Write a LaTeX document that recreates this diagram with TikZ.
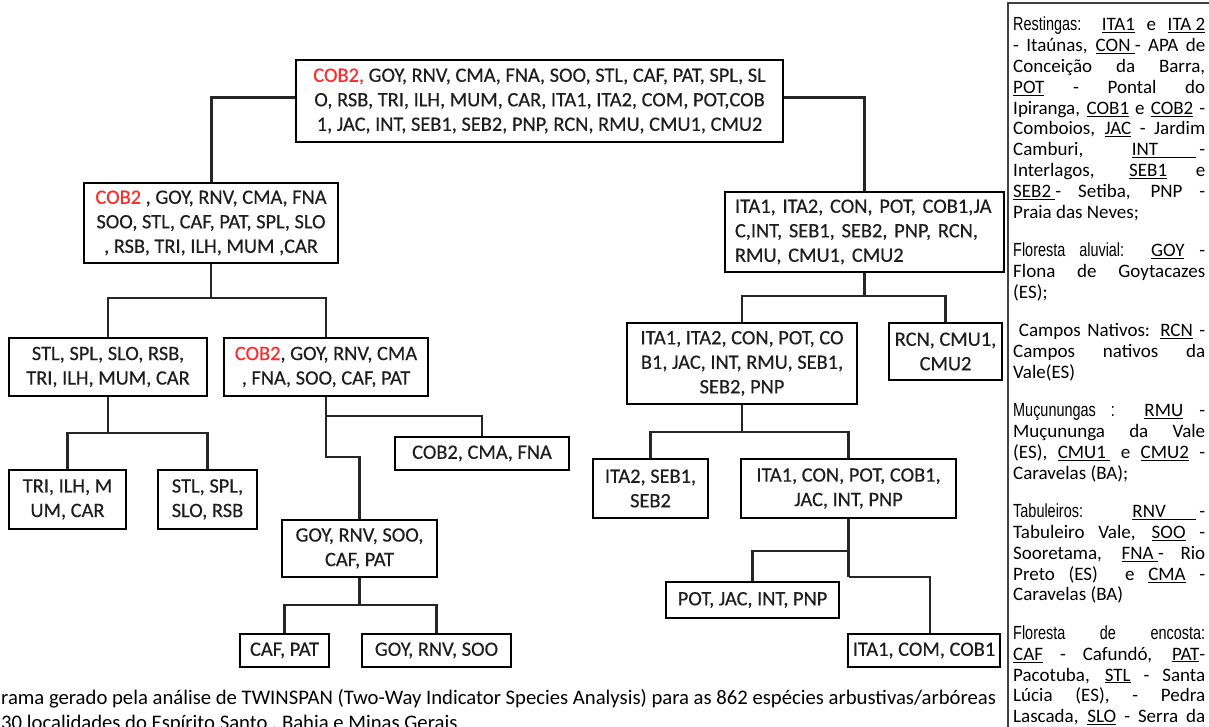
\documentclass[tikz,border=0pt]{standalone}
\usepackage{fontspec}
\setmainfont{Carlito}
\newfontfamily\narrowfont[FakeStretch=0.76]{Liberation Sans}
\newfontfamily\treefam[FakeBold=0.35]{Carlito}
\newcommand\treefont{\treefam\fontsize{20.4}{24.5}\selectfont}
\newcommand\legfont{\fontsize{19}{20.8}\selectfont}
\newcommand\capfont{\fontsize{20.7}{25}\selectfont}
\newcommand\legj[1]{\makebox[192pt][s]{#1}}
\newcommand\legl[1]{\makebox[192pt][l]{#1}}
\definecolor{txt}{HTML}{1E1E1E}
\definecolor{redc}{HTML}{FF2A2A}
\begin{document}
\begin{tikzpicture}[x=1pt,y=-1pt,
  box/.style={draw=black, line width=1.6pt, inner sep=0pt, align=center, font=\treefont, text=txt},
  conn/.style={draw=black!85, line width=2.4pt},
]
\fill[white] (0,0) rectangle (1209,727);
\useasboundingbox (0,0) rectangle (1209,727);
\clip (0,0) rectangle (1209,727);

% ---------- boxes ----------
\node[box, minimum width=487pt, minimum height=82pt] (root) at (539.5,101)
  {\textcolor{redc}{COB2,} GOY, RNV, CMA, FNA, SOO, STL, CAF, PAT, SPL, SL\\
   O, RSB, TRI, ILH, MUM, CAR, ITA1, ITA2, COM, POT,COB\\
   1, JAC, INT, SEB1, SEB2, PNP, RCN, RMU, CMU1, CMU2};
\node[box, minimum width=254pt, minimum height=80pt] (L1) at (211,223)
  {\textcolor{redc}{COB2} , GOY, RNV, CMA, FNA\\
   SOO, STL, CAF, PAT, SPL, SLO\\
   , RSB, TRI, ILH, MUM ,CAR};
\node[box, minimum width=279pt, minimum height=80pt, text width=259pt, align=left] (R1) at (864.5,232)
  {ITA1, ITA2, CON, POT, COB1,JA\\
   C,INT, SEB1, SEB2, PNP, RCN,\\
   RMU, CMU1, CMU2};
\node[box, minimum width=198pt, minimum height=58pt] (L2a) at (108,367)
  {STL, SPL, SLO, RSB,\\ TRI, ILH, MUM, CAR};
\node[box, minimum width=204pt, minimum height=58pt] (L2b) at (326,367)
  {\textcolor{redc}{COB2}, GOY, RNV, CMA\\ , FNA, SOO, CAF, PAT};
\node[box, minimum width=174pt, minimum height=33pt] (CMA) at (482,453.5)
  {COB2, CMA, FNA};
\node[box, minimum width=117pt, minimum height=59pt] (TRI) at (67.5,499.5)
  {TRI, ILH, M\\ UM, CAR};
\node[box, minimum width=99pt, minimum height=59pt] (STL) at (207.5,499.5)
  {STL, SPL,\\ SLO, RSB};
\node[box, minimum width=155pt, minimum height=57pt] (GOY) at (359.5,548.5)
  {GOY, RNV, SOO,\\ CAF, PAT};
\node[box, minimum width=89pt, minimum height=33pt] (CAF) at (284.5,650.5)
  {CAF, PAT};
\node[box, minimum width=149pt, minimum height=33pt] (GRS) at (436.5,650.5)
  {GOY, RNV, SOO};
\node[box, minimum width=230pt, minimum height=81pt] (R2a) at (742,363.5)
  {ITA1, ITA2, CON, POT, CO\\ B1, JAC, INT, RMU, SEB1,\\ SEB2, PNP};
\node[box, minimum width=113pt, minimum height=57pt] (R2b) at (945.5,351.5)
  {RCN, CMU1,\\ CMU2};
\node[box, minimum width=115pt, minimum height=59pt] (R3a) at (650.5,488.5)
  {ITA2, SEB1,\\ SEB2};
\node[box, minimum width=215pt, minimum height=59pt] (R3b) at (848.5,488.5)
  {ITA1, CON, POT, COB1,\\ JAC, INT, PNP};
\node[box, minimum width=173pt, minimum height=36pt] (R4a) at (752.5,600)
  {POT, JAC, INT, PNP};
\node[box, minimum width=152pt, minimum height=33pt] (R4b) at (924,650.5)
  {ITA1, COM, COB1};

% ---------- junctions ----------
\coordinate (j1) at (211,298);
\coordinate (j2) at (108,433);
\coordinate (j3) at (326,416);
\coordinate (j4) at (326,457);
\coordinate (j6) at (359.5,605);
\coordinate (j7) at (864.5,296);
\coordinate (j8) at (742,432);
\coordinate (j9) at (848.5,551);
\coordinate (j10) at (848.5,577);

% ---------- connectors ----------
\draw[conn, line width=3pt] ([yshift=3pt]root.west) -| (L1.north);
\draw[conn, line width=3pt] ([yshift=3pt]root.east) -| (R1.north);
\draw[conn] (L1.south) -- (j1);
\draw[conn] (L2a.north) |- (j1) -| (L2b.north);
\draw[conn] (L2a.south) -- (j2);
\draw[conn] (TRI.north) |- (j2) -| (STL.north);
\draw[conn] (L2b.south) -- (j3) -| (CMA.north);
\draw[conn] (j3) -- (j4) -| (GOY.north);
\draw[conn] (GOY.south) -- (j6);
\draw[conn] (CAF.north) |- (j6) -| (GRS.north);
\draw[conn] (R1.south) -- (j7);
\draw[conn] (R2a.north) |- (j7) -| (R2b.north);
\draw[conn] (R2a.south) -- (j8);
\draw[conn] (R3a.north) |- (j8) -| (R3b.north);
\draw[conn] (R3b.south) -- (j10);
\draw[conn] (R4a.north) |- (j9);
\draw[conn] (j10) -| ([xshift=6pt]R4b.north);

% ---------- legend ----------
\draw[draw=black!75, line width=1.5pt] (1008,730) -- (1008,3) -- (1212,3);
\node[anchor=north west, inner sep=0pt, align=left, font=\legfont, text=black] (leg) at (1013,17) {%
\legj{{\narrowfont Restingas:} \underline{ITA1} e \underline{ITA 2}}\\
\legj{- Itaúnas, \underline{CON\ }- APA de}\\
\legj{Conceição da Barra,}\\
\legj{\underline{POT} - Pontal do}\\
\legj{Ipiranga, \underline{COB1} e \underline{COB2} -}\\
\legj{Comboios, \underline{JAC} - Jardim}\\
\legj{Camburi, \underline{INT\hspace{2em}}\,-}\\
\legj{Interlagos, \underline{SEB1} e}\\
\legj{\underline{SEB2\ }- Setiba, PNP -}\\
\legl{Praia das Neves;}\\[17.7pt]
\legj{{\narrowfont Floresta aluvial:} \underline{GOY} -}\\
\legj{Flona de Goytacazes}\\
\legl{(ES);}\\[17.7pt]
\legj{\hspace{0.3em}Campos Nativos: \underline{RCN} -}\\
\legj{Campos nativos da}\\
\legl{Vale(ES)}\\[17.7pt]
\legj{{\narrowfont Muçunungas :} \underline{RMU} -}\\
\legj{Muçununga da Vale}\\
\legj{(ES), \underline{CMU1\ } e \underline{CMU2} -}\\
\legl{Caravelas (BA);}\\[17.7pt]
\legj{{\narrowfont Tabuleiros:} \underline{RNV\hspace{1.6em}}\,-}\\
\legj{Tabuleiro Vale, \underline{SOO} -}\\
\legj{Sooretama, \underline{FNA\ }- Rio}\\
\legj{Preto (ES) \ e \underline{CMA} -}\\
\legl{Caravelas (BA)}\\[17.7pt]
\legj{{\narrowfont Floresta de encosta:}}\\
\legj{\underline{CAF} - Cafundó, \underline{PAT}-}\\
\legj{Pacotuba, \underline{STL} - Santa}\\
\legj{Lúcia (ES), - Pedra}\\
\legj{Lascada, \underline{SLO} - Serra da}};

% ---------- caption ----------
\node[anchor=base west, inner sep=0pt, font=\capfont, text=black] (cap1) at (1,704)
  {rama gerado pela análise de TWINSPAN (Two-Way Indicator Species Analysis) para as 862 espécies arbustivas/arbóreas};
\node[anchor=base west, inner sep=0pt, font=\capfont, text=black] (cap2) at (1,729)
  {30 localidades do Espírito Santo , Bahia e Minas Gerais};
\end{tikzpicture}
\end{document}
